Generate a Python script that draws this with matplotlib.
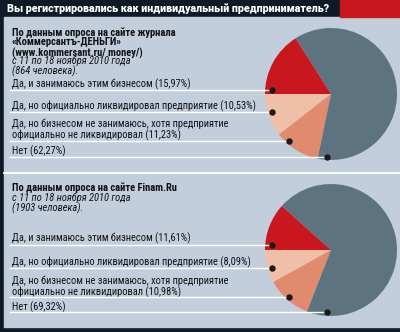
import matplotlib
matplotlib.use("Agg")
import matplotlib.pyplot as plt
from matplotlib.patches import Rectangle

# ---- data ----
title = "Вы регистрировались как индивидуальный предприниматель?"
categories = ["Да, и занимаюсь этим бизнесом",
              "Да, но официально ликвидировал предприятие",
              "Да, но бизнесом не занимаюсь, хотя предприятие\nофициально не ликвидировал",
              "Нет"]
values_kommersant = [15.97, 10.53, 11.23, 62.27]
values_finam = [11.61, 8.09, 10.98, 69.32]
header_kommersant = ["По данным опроса на сайте журнала",
                     "«Коммерсантъ-ДЕНЬГИ»",
                     "(www.kommersant.ru/ money/)"]
sub_kommersant = ["с 11 по 18 ноября 2010 года", "(864 человека)."]
header_finam = ["По данным опроса на сайте Finam.Ru"]
sub_finam = ["с 11 по 18 ноября 2010 года", "(1903 человека)."]

# ---- style ----
BG = "#c3cedd"
DARK = "#0e1b26"
RED = "#c8171e"
PINK = "#efbfa8"
SALMON = "#e08a6e"
GRAY = "#5d7480"
slice_colors = [RED, PINK, SALMON, GRAY]
W, H = 400, 332
NARROW = ["Roboto Condensed", "PT Sans Narrow", "Fira Sans Condensed", "DejaVu Sans"]
TITLEF = ["Roboto", "DejaVu Sans"]

fig = plt.figure(figsize=(W / 100, H / 100), dpi=100)
fig.patch.set_facecolor(DARK)

bg = fig.add_axes([0, 0, 1, 1], zorder=0)
bg.set_xlim(0, W)
bg.set_ylim(H, 0)
bg.axis("off")
bg.add_patch(Rectangle((4, 17), W - 4, 310, color=BG, zorder=0))
bg.add_patch(Rectangle((340, 0), 60, 17, color=RED, zorder=1))
bg.plot([4, W], [173, 173], color="white", lw=1.3, zorder=2)

ov = fig.add_axes([0, 0, 1, 1], zorder=2)
ov.set_xlim(0, W)
ov.set_ylim(H, 0)
ov.axis("off")
ov.patch.set_alpha(0)

ov.text(7, 8.5, title, color="white", fontsize=7.65, fontweight="black",
        family=TITLEF, va="center", ha="left")


def panel(values, header, sub, head_y, sub_y, label_y, line_y, cy):
    r = 66
    cx = 331
    pax = fig.add_axes([(cx - r) / W, (H - cy - r) / H, 2 * r / W, 2 * r / H], zorder=1)
    order = [1, 2, 3, 0]
    pax.pie([values[i] for i in order], colors=[slice_colors[i] for i in order],
            startangle=180, counterclock=True, radius=1,
            wedgeprops=dict(linewidth=0))
    pax.set_xlim(-1, 1)
    pax.set_ylim(-1, 1)
    pax.set_aspect("auto")
    pax.axis("off")
    ov.text(12, head_y - 5, "\n".join(header), fontsize=7.6, fontweight="bold",
            family=NARROW, va="top", ha="left", color="#111111", linespacing=0.98)
    ov.text(12, sub_y - 4.6, "\n".join(sub), fontsize=7.6, style="italic",
            family=NARROW, va="top", ha="left", color="#111111", linespacing=0.97)
    marker_x = [272, 272, 289, 327]
    for cat, v, ly, yl, mx in zip(categories, values, label_y, line_y, marker_x):
        txt = cat + " (" + f"{v:.2f}".replace(".", ",") + "%)"
        ov.text(12, ly, txt, fontsize=7.5, family=NARROW, va="center",
                ha="left", color="#111111", linespacing=1.05)
        ov.plot([10, mx], [yl, yl], color="white", lw=1.0, zorder=5)
        ov.plot([mx], [yl], marker="o", ms=3.6, color="#1a1a1a", zorder=6)


panel(values_kommersant, header_kommersant, sub_kommersant,
      32, 60, [84, 106.5, 129.8, 151.5], [89.5, 112, 140.5, 157], 94)
panel(values_finam, header_finam, sub_finam,
      187.5, 197, [238.5, 262, 286.7, 307.5], [245.3, 267.5, 296.5, 312.3], 250)

fig.savefig("out.png", dpi=100, facecolor=DARK)
